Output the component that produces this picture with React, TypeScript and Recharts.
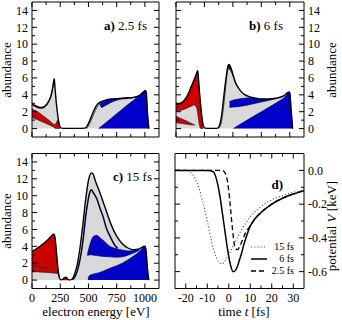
import React from 'react';
import { ComposedChart, Area, Line, XAxis, YAxis } from 'recharts';

// ---------------- data ----------------
const energyTicks = [0, 125, 250, 375, 500, 625, 750, 875, 1000];
const abundanceTicks = [0, 1, 2, 3, 4, 5, 6, 7, 8, 9, 10, 11, 12, 13, 14];
const timeTicks = [-20, -15, -10, -5, 0, 5, 10, 15, 20, 25, 30];
const potentialTicks = [0, -0.1, -0.2, -0.3, -0.4, -0.5, -0.6];

// panel a) 2.5 fs  [energy, abundance] / [energy, low, high]
const aTotal = [
  [0, 2.95], [25, 2.75], [50, 2.6], [75, 2.5], [100, 2.55], [125, 2.8], [150, 3.3], [170, 4.0], [185, 5.0],
  [197, 5.9], [205, 4.6], [215, 3.1], [225, 1.9], [235, 0.9], [245, 0.3], [260, 0.05], [300, 0.02], [400, 0.02],
  [470, 0.05], [480, 0.15], [500, 0.6], [525, 1.4], [550, 2.2], [575, 2.8], [600, 3.1], [625, 3.25], [650, 3.35],
  [700, 3.5], [750, 3.55], [800, 3.6], [850, 3.65], [900, 3.7], [950, 3.9], [975, 4.2], [1005, 4.5], [1012, 4.3],
  [1022, 2.0], [1035, 0],
];
const aRedTop = [
  [0, 2.8, 2.95], [25, 2.6, 2.75], [50, 2.45, 2.6], [75, 2.36, 2.5], [100, 2.41, 2.55], [125, 2.66, 2.8],
  [150, 3.15, 3.3], [170, 3.84, 4.0], [185, 4.82, 5.0], [197, 5.7, 5.9],
];
const aRedLow = [
  [0, 1.3, 2.3], [50, 1.05, 2.0], [100, 0.75, 1.5], [150, 0.45, 1.0], [190, 0.2, 0.55], [205, 0.05, 0.45],
  [218, 0, 0.8], [228, 0, 1.0], [238, 0, 0.7], [248, 0, 0.2],
];
const aInner = [[485, 0], [500, 0.3], [525, 1.0], [550, 1.8], [575, 2.5], [600, 2.9], [625, 3.1], [650, 3.25]];
const aBlueBand = [
  [600, 3.05, 3.1], [615, 2.5, 3.2], [640, 2.65, 3.3], [700, 3.1, 3.48], [750, 3.35, 3.54], [800, 3.5, 3.6],
  [900, 3.65, 3.7], [950, 3.85, 3.9],
];
const aBlueFill = [
  [590, 0], [650, 0.65], [700, 1.2], [750, 1.75], [800, 2.3], [850, 2.85], [900, 3.35], [950, 3.9], [1005, 4.5],
  [1012, 4.3], [1022, 2.0], [1035, 0],
];

// panel b) 6 fs
const bTotal = [
  [0, 2.9], [40, 3.0], [73, 3.35], [100, 3.9], [132, 4.9], [160, 5.8], [180, 6.5], [191, 6.85], [200, 5.4],
  [210, 3.7], [220, 2.3], [230, 1.1], [240, 0.35], [255, 0.05], [300, 0.02], [360, 0.02], [380, 0.3], [400, 1.5],
  [420, 3.8], [440, 6.0], [455, 7.3], [465, 7.6], [480, 7.3], [500, 6.4], [525, 5.4], [550, 4.8], [575, 4.35],
  [600, 4.05], [650, 3.75], [700, 3.6], [750, 3.5], [800, 3.5], [850, 3.55], [900, 3.65], [950, 3.9], [990, 4.3],
  [1000, 4.3], [1010, 2.5], [1025, 0],
];
const bRedTop = [
  [0, 2.1, 2.9], [40, 2.15, 3.0], [73, 2.3, 3.35], [100, 2.45, 3.9], [132, 2.65, 4.9], [160, 2.8, 5.8],
  [180, 2.5, 6.5], [191, 1.8, 6.85], [200, 0.9, 5.4], [210, 0.2, 3.7], [220, 0, 2.3], [230, 0, 1.1], [240, 0, 0.35],
];
const bRedLow = [[0, 0.7, 1.45], [50, 0.6, 1.15], [100, 0.5, 0.85], [150, 0.42, 0.52], [165, 0.42, 0.42]];
const bInner = [
  [375, 0], [400, 0.8], [420, 2.8], [440, 5.4], [455, 6.9], [465, 7.1], [480, 6.9], [500, 6.3], [525, 5.3], [550, 4.75],
];
const bBlueCap = [[455, 7.2, 7.3], [465, 7.1, 7.6], [480, 6.9, 7.3], [500, 6.3, 6.4]];
const bBlueBand = [
  [470, 2.5, 3.2], [500, 2.55, 3.35], [550, 2.6, 3.5], [600, 2.7, 3.6], [650, 2.85, 3.65], [700, 3.0, 3.55],
  [750, 3.15, 3.48], [800, 3.3, 3.48], [850, 3.45, 3.55], [880, 3.55, 3.6],
];
const bBlueFill = [
  [505, 0], [600, 0.8], [700, 1.6], [800, 2.4], [900, 3.2], [950, 3.65], [990, 4.25], [1000, 4.3], [1010, 2.5], [1025, 0],
];

// panel c) 15 fs
const cTotal = [
  [0, 3.4], [50, 3.8], [100, 4.3], [150, 4.9], [185, 5.4], [195, 5.45], [205, 4.9], [215, 3.5], [225, 2.0],
  [235, 0.8], [245, 0.2], [255, 0.02], [275, 0.1], [290, 0.3], [305, 0.3], [320, 0.05], [340, 0.02], [360, 0.2],
  [380, 0.8], [400, 1.8], [425, 3.8], [450, 6.5], [475, 9.5], [500, 11.8], [525, 12.7], [540, 12.6], [560, 11.8],
  [600, 10.4], [650, 8.5], [700, 6.6], [750, 5.2], [800, 4.3], [850, 3.8], [900, 3.6], [950, 3.7], [1000, 4.0],
  [1010, 3.5], [1025, 1.0], [1035, 0],
];
const cRed = [
  [0, 1.0, 3.4], [50, 0.97, 3.8], [100, 0.93, 4.3], [150, 0.88, 4.9], [185, 0.83, 5.4], [195, 0.82, 5.45],
  [205, 0.8, 4.9], [215, 0.78, 3.5], [225, 0.75, 2.0], [235, 0.7, 0.8], [240, 0.45, 0.5],
];
const cRedBump = [[270, 0, 0.05], [285, 0, 0.3], [300, 0, 0.3], [315, 0, 0.05]];
const cRedLine = [[0, 1.7], [100, 1.5], [200, 1.2], [240, 0.9]];
const cInner = [
  [360, 0], [400, 1.0], [450, 4.5], [480, 8.0], [510, 10.3], [525, 10.7], [545, 10.3], [575, 9.6], [600, 8.6],
  [632, 7.4], [660, 6.1], [691, 5.2], [735, 4.1], [760, 3.75],
];
const cBlueBand = [
  [490, 2.9, 3.0], [520, 3.0, 4.5], [545, 2.95, 5.2], [575, 2.9, 5.3], [600, 2.85, 5.05], [632, 2.8, 4.7],
  [691, 2.75, 4.0], [750, 2.7, 3.7], [800, 2.75, 3.55], [850, 2.95, 3.45], [900, 3.2, 3.5], [950, 3.5, 3.65],
];
const cBlueFill = [
  [497, 0], [505, 0.5], [600, 0.9], [700, 1.45], [800, 2.0], [900, 2.85], [950, 3.35], [1000, 4.0], [1010, 3.5],
  [1025, 1.0], [1035, 0],
];

// panel d) potential  [time fs, V keV]
const v15fs = [
  [-25, 0], [-20, 0], [-18, -0.01], [-16, -0.04], [-14, -0.1], [-12, -0.19], [-10, -0.3], [-8, -0.42], [-6, -0.51],
  [-4, -0.55], [-3, -0.553], [-2, -0.54], [0, -0.5], [2, -0.45], [4, -0.4], [6, -0.35], [8, -0.31], [10, -0.275],
  [15, -0.215], [20, -0.175], [25, -0.15], [30, -0.13], [35, -0.115],
];
const v6fs = [
  [-25, 0], [-9, 0], [-7, -0.01], [-6, -0.04], [-5, -0.09], [-4, -0.16], [-3, -0.25], [-2, -0.34], [-1, -0.43],
  [0, -0.51], [1, -0.57], [2, -0.6], [3, -0.595], [4, -0.57], [5, -0.53], [6, -0.49], [7, -0.44], [8, -0.4],
  [10, -0.33], [12, -0.29], [15, -0.25], [20, -0.2], [25, -0.165], [30, -0.14], [35, -0.12],
];
const v25fs = [
  [-25, 0], [-3, 0], [-2, -0.01], [-1, -0.04], [0, -0.12], [1, -0.25], [2, -0.38], [3, -0.46], [4, -0.47],
  [5, -0.455], [6, -0.425], [7, -0.395], [8, -0.365], [10, -0.33], [12, -0.29], [15, -0.25], [20, -0.2],
  [25, -0.165], [30, -0.14], [35, -0.12],
];

// ---------------- helpers ----------------
const SERIF = "'Liberation Serif', 'Times New Roman', 'DejaVu Serif', serif";
const GRAY = '#d9d9d9';
const RED = '#cc0000';
const BLUE = '#0000c8';
const W = 342;
const H = 320;

const pts = (arr: number[][]) => arr.map(([x, v]) => ({ x, v }));
const band = (arr: number[][]) => arr.map(([x, lo, hi]) => ({ x, v: [lo, hi] }));

type Side = 'left' | 'right' | 'top' | 'bottom';
function makeTick(side: Side, isMajor: (v: number) => boolean, label: ((v: number) => string | null) | null) {
  return (props: any) => {
    const { x, y, payload } = props;
    const v = Number(payload.value);
    const len = isMajor(v) ? 5 : 3;
    const txt = label ? label(v) : null;
    let ln: any = null;
    let tx: any = null;
    const ts = { style: { fontFamily: SERIF, fontSize: 12 }, fill: '#000' };
    if (side === 'left') {
      ln = <line x1={x} y1={y} x2={x + len} y2={y} stroke="#000" strokeWidth={1} />;
      if (txt != null) tx = <text x={x - 4} y={y} dy="0.35em" textAnchor="end" {...ts}>{txt}</text>;
    } else if (side === 'right') {
      ln = <line x1={x} y1={y} x2={x - len} y2={y} stroke="#000" strokeWidth={1} />;
      if (txt != null) tx = <text x={x + 4} y={y} dy="0.35em" textAnchor="start" {...ts}>{txt}</text>;
    } else if (side === 'bottom') {
      ln = <line x1={x} y1={y} x2={x} y2={y - len} stroke="#000" strokeWidth={1} />;
      if (txt != null) tx = <text x={x} y={y + 13} textAnchor="middle" {...ts}>{txt}</text>;
    } else {
      ln = <line x1={x} y1={y} x2={x} y2={y + len} stroke="#000" strokeWidth={1} />;
    }
    return (
      <g>
        {ln}
        {tx}
      </g>
    );
  };
}

type Layer = {
  kind: 'area' | 'band' | 'line';
  data: any[];
  fill?: string;
  stroke?: string;
  width?: number;
  dash?: string;
};

type PanelProps = {
  box: { l: number; r: number; t: number; b: number };
  xDomain: [number, number];
  yDomain: [number, number];
  xTicks: number[];
  yTicks: number[];
  xMajor: (v: number) => boolean;
  yMajor: (v: number) => boolean;
  xLabel: ((v: number) => string | null) | null;
  yLabelLeft: ((v: number) => string | null) | null;
  yLabelRight: ((v: number) => string | null) | null;
  layers: Layer[];
  outline?: any[];
};

function Panel(p: PanelProps) {
  const margin = { left: p.box.l - 1, right: W - p.box.r - 1, top: p.box.t - 1, bottom: H - p.box.b - 1 };
  return (
    <div style={{ position: 'absolute', left: 0, top: 0 }}>
      <ComposedChart width={W} height={H} margin={margin}>
        <XAxis xAxisId="b" orientation="bottom" type="number" dataKey="x" domain={p.xDomain} allowDataOverflow
          ticks={p.xTicks} interval={0} height={1} tickSize={0} tickMargin={0} tickLine={false}
          axisLine={{ stroke: '#000', strokeWidth: 1 }} tick={makeTick('bottom', p.xMajor, p.xLabel)} />
        <XAxis xAxisId="t" orientation="top" type="number" dataKey="x" domain={p.xDomain} allowDataOverflow
          ticks={p.xTicks} interval={0} height={1} tickSize={0} tickMargin={0} tickLine={false}
          axisLine={{ stroke: '#000', strokeWidth: 1 }} tick={makeTick('top', p.xMajor, null)} />
        <YAxis yAxisId="l" orientation="left" type="number" domain={p.yDomain} allowDataOverflow
          ticks={p.yTicks} interval={0} width={1} tickSize={0} tickMargin={0} tickLine={false}
          axisLine={{ stroke: '#000', strokeWidth: 1 }} tick={makeTick('left', p.yMajor, p.yLabelLeft)} />
        <YAxis yAxisId="r" orientation="right" type="number" domain={p.yDomain} allowDataOverflow
          ticks={p.yTicks} interval={0} width={1} tickSize={0} tickMargin={0} tickLine={false}
          axisLine={{ stroke: '#000', strokeWidth: 1 }} tick={makeTick('right', p.yMajor, p.yLabelRight)} />
        {p.layers.map((ly, i) =>
          ly.kind === 'line' ? (
            <Line key={i} xAxisId="b" yAxisId="l" data={ly.data} dataKey="v" type="monotone" stroke={ly.stroke}
              strokeWidth={ly.width ?? 1} strokeDasharray={ly.dash} dot={false} activeDot={false}
              isAnimationActive={false} />
          ) : (
            <Area key={i} xAxisId="b" yAxisId="l" data={ly.data} dataKey="v" type="monotone" baseValue={0}
              fill={ly.fill} fillOpacity={1} stroke={ly.stroke ?? 'none'} strokeWidth={ly.width ?? 0.6}
              dot={false} activeDot={false} isAnimationActive={false} />
          ),
        )}
        {p.outline ? (
          <Line xAxisId="t" yAxisId="r" data={p.outline} dataKey="v" type="monotone" stroke="#000" strokeWidth={1.4}
            dot={false} activeDot={false} isAnimationActive={false} />
        ) : null}
      </ComposedChart>
    </div>
  );
}

const isEven = (v: number) => Math.round(v) % 2 === 0;
const evenLabel = (v: number) => (Math.round(v) % 2 === 0 ? String(v) : null);
const e250 = (v: number) => Math.round(v) % 250 === 0;
const e250Label = (v: number) => (Math.round(v) % 250 === 0 ? String(v) : null);
const t10 = (v: number) => Math.round(v) % 10 === 0;
const t10Label = (v: number) => (Math.round(v) % 10 === 0 ? String(v) : null);
const p02 = (v: number) => Math.round(v * 10) % 2 === 0;
const p02Label = (v: number) => (Math.round(v * 10) % 2 === 0 ? (Math.abs(v) < 1e-9 ? '0.0' : v.toFixed(1)) : null);

const eDomain: [number, number] = [0, 1125];
const aDomain: [number, number] = [-1, 15];

export default function App() {
  const txt = { style: { fontFamily: SERIF, fontSize: 13 }, fill: '#000' };
  const lg = { style: { fontFamily: SERIF, fontSize: 10 }, fill: '#000' };
  return (
    <div style={{ position: 'absolute', left: 0, top: 0, width: W, height: H, background: '#fff', fontFamily: SERIF }}>
      <Panel
        box={{ l: 32, r: 159, t: 2, b: 137 }}
        xDomain={eDomain} yDomain={aDomain} xTicks={energyTicks} yTicks={abundanceTicks}
        xMajor={e250} yMajor={isEven} xLabel={null} yLabelLeft={evenLabel} yLabelRight={null}
        layers={[
          { kind: 'area', data: pts(aTotal), fill: GRAY },
          { kind: 'band', data: band(aRedTop), fill: RED, stroke: '#5a0000', width: 0.4 },
          { kind: 'band', data: band(aRedLow), fill: RED, stroke: '#222', width: 0.7 },
          { kind: 'band', data: band(aBlueBand), fill: BLUE, stroke: '#000040', width: 0.6 },
          { kind: 'area', data: pts(aBlueFill), fill: BLUE, stroke: '#000040', width: 0.6 },
          { kind: 'line', data: pts(aInner), stroke: '#333', width: 0.9 },
        ]}
        outline={pts(aTotal)}
      />
      <Panel
        box={{ l: 176, r: 304, t: 2, b: 137 }}
        xDomain={eDomain} yDomain={aDomain} xTicks={energyTicks} yTicks={abundanceTicks}
        xMajor={e250} yMajor={isEven} xLabel={null} yLabelLeft={null} yLabelRight={evenLabel}
        layers={[
          { kind: 'area', data: pts(bTotal), fill: GRAY },
          { kind: 'band', data: band(bRedTop), fill: RED, stroke: '#3a0000', width: 0.6 },
          { kind: 'band', data: band(bRedLow), fill: RED, stroke: '#222', width: 0.6 },
          { kind: 'band', data: band(bBlueBand), fill: BLUE, stroke: '#000040', width: 0.6 },
          { kind: 'area', data: pts(bBlueFill), fill: BLUE, stroke: '#000040', width: 0.6 },
          { kind: 'band', data: band(bBlueCap), fill: BLUE, stroke: '#000040', width: 0.4 },
          { kind: 'line', data: pts(bInner), stroke: '#333', width: 0.9 },
        ]}
        outline={pts(bTotal)}
      />
      <Panel
        box={{ l: 32, r: 159, t: 153.5, b: 288.5 }}
        xDomain={eDomain} yDomain={aDomain} xTicks={energyTicks} yTicks={abundanceTicks}
        xMajor={e250} yMajor={isEven} xLabel={e250Label} yLabelLeft={evenLabel} yLabelRight={null}
        layers={[
          { kind: 'area', data: pts(cTotal), fill: GRAY },
          { kind: 'band', data: band(cRed), fill: RED, stroke: '#222', width: 0.6 },
          { kind: 'band', data: band(cRedBump), fill: RED, stroke: '#5a0000', width: 0.4 },
          { kind: 'line', data: pts(cRedLine), stroke: '#333', width: 0.9 },
          { kind: 'band', data: band(cBlueBand), fill: BLUE, stroke: '#000040', width: 0.6 },
          { kind: 'area', data: pts(cBlueFill), fill: BLUE, stroke: '#000040', width: 0.6 },
          { kind: 'line', data: pts(cInner), stroke: '#000030', width: 1.5 },
        ]}
        outline={pts(cTotal)}
      />
      <Panel
        box={{ l: 175, r: 304, t: 153.5, b: 288.5 }}
        xDomain={[-25, 35]} yDomain={[-0.7, 0.1]} xTicks={timeTicks} yTicks={potentialTicks}
        xMajor={t10} yMajor={p02} xLabel={t10Label} yLabelLeft={null} yLabelRight={p02Label}
        layers={[
          { kind: 'line', data: pts(v15fs), stroke: '#555', width: 1.1, dash: '1.2 2' },
          { kind: 'line', data: pts(v6fs), stroke: '#000', width: 1.5 },
          { kind: 'line', data: pts(v25fs), stroke: '#000', width: 1.3, dash: '5 3' },
        ]}
      />
      <svg width={W} height={H} style={{ position: 'absolute', left: 0, top: 0, pointerEvents: 'none' }}>
        <text transform="translate(11,70) rotate(-90)" textAnchor="middle" {...txt}>abundance</text>
        <text transform="translate(11,221) rotate(-90)" textAnchor="middle" {...txt}>abundance</text>
        <text transform="translate(336,70) rotate(-90)" textAnchor="middle" {...txt}>abundance</text>
        <text transform="translate(336,226) rotate(-90)" textAnchor="middle" {...txt}>
          potential <tspan fontStyle="italic">V</tspan> [keV]
        </text>
        <text x={96} y={316} textAnchor="middle" {...txt}>electron energy [eV]</text>
        <text x={244} y={316} textAnchor="middle" {...txt}>
          time <tspan fontStyle="italic">t</tspan> [fs]
        </text>
        <text x={147} y={30} textAnchor="end" {...txt}>
          <tspan fontWeight="bold">a)</tspan> 2.5 fs
        </text>
        <text x={283} y={30} textAnchor="end" {...txt}>
          <tspan fontWeight="bold">b)</tspan> 6 fs
        </text>
        <text x={152} y={181} textAnchor="end" {...txt}>
          <tspan fontWeight="bold">c)</tspan> 15 fs
        </text>
        <text x={283} y={189} textAnchor="end" {...txt} fontWeight="bold">d)</text>
        <line x1={251} y1={247} x2={267} y2={247} stroke="#555" strokeWidth={1.1} strokeDasharray="1.2 2" />
        <line x1={251} y1={259} x2={267} y2={259} stroke="#000" strokeWidth={1.5} />
        <line x1={251} y1={271} x2={267} y2={271} stroke="#000" strokeWidth={1.3} strokeDasharray="5 3" />
        <text x={294} y={250} textAnchor="end" {...lg}>15 fs</text>
        <text x={294} y={262} textAnchor="end" {...lg}>6 fs</text>
        <text x={294} y={274} textAnchor="end" {...lg}>2.5 fs</text>
      </svg>
    </div>
  );
}
